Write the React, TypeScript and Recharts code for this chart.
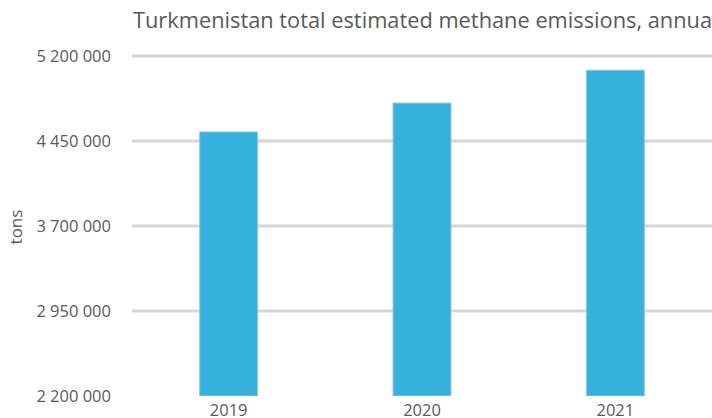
import React from 'react';
import { BarChart, Bar, XAxis, YAxis, CartesianGrid } from 'recharts';

const years = ['2019', '2020', '2021'];
const emissions = [4530000, 4785000, 5075000];
const yTicks = [2200000, 2950000, 3700000, 4450000, 5200000];

const data = years.map((year, i) => ({ year, tons: emissions[i] }));

const fmt = (v: number) => String(v).replace(/\B(?=(\d{3})+(?!\d))/g, ' ');

const font = '"Open Sans", "DejaVu Sans", sans-serif';

const YTick = (props: any) => {
  const { x, y, payload } = props;
  return (
    <text x={x - 13} y={y} dy={6} textAnchor="end" fill="#595959" fontSize={16.5} fontFamily={font}>
      {fmt(payload.value)}
    </text>
  );
};

const XTick = (props: any) => {
  const { x, y, payload } = props;
  return (
    <text x={x} y={y} dy={12} textAnchor="middle" fill="#595959" fontSize={16.5} fontFamily={font}>
      {payload.value}
    </text>
  );
};

const gridRows = (args: any) => {
  const scale = args?.yAxis?.scale;
  if (typeof scale === 'function') return yTicks.slice(1).map((t) => scale(t));
  if (scale && typeof scale.map === 'function') return yTicks.slice(1).map((t) => scale.map(t));
  return [];
};

const App: React.FC = () => {
  return (
    <div style={{ position: 'absolute', left: 0, top: 0, width: 712, height: 418, background: '#fff', overflow: 'hidden' }}>
      <div
        style={{
          position: 'absolute',
          left: 133,
          top: 5,
          whiteSpace: 'nowrap',
          fontFamily: font,
          fontSize: 21.8,
          color: '#595959',
        }}
      >
        Turkmenistan total estimated methane emissions, annual
      </div>
      <div
        style={{
          position: 'absolute',
          left: 15,
          top: 227,
          transform: 'translate(-50%, -50%) rotate(-90deg)',
          fontFamily: font,
          fontSize: 17,
          color: '#595959',
        }}
      >
        tons
      </div>
      <BarChart
        width={712}
        height={418}
        data={data}
        margin={{ top: 56, right: 0, left: 0, bottom: 21 }}
        barCategoryGap="35%"
      >
        <CartesianGrid
          vertical={false}
          stroke="#d6d6d6"
          strokeWidth={3}
          horizontalCoordinatesGenerator={gridRows}
        />
        <XAxis dataKey="year" axisLine={false} tickLine={false} tick={<XTick />} height={1} />
        <YAxis
          width={132}
          domain={[2200000, 5200000]}
          ticks={yTicks}
          axisLine={false}
          tickLine={false}
          tick={<YTick />}
          allowDataOverflow
        />
        <Bar dataKey="tons" fill="#36b1de" stroke="#9cc7d6" strokeWidth={1} isAnimationActive={false} />
      </BarChart>
    </div>
  );
};

export default App;
